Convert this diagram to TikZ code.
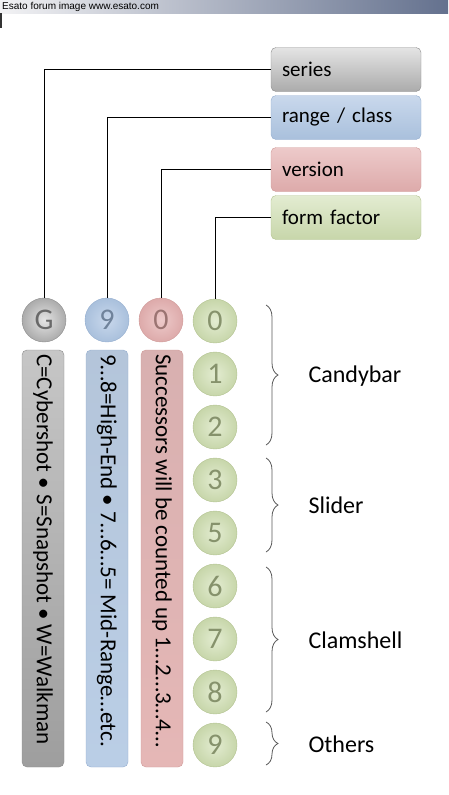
\documentclass[tikz,border=0pt]{standalone}
\usepackage{fontspec}
\setmainfont{Carlito}
\newfontfamily\bannerfont{Liberation Sans}
\usetikzlibrary{decorations.pathreplacing}
\definecolor{grayA}{HTML}{E4E4E4}
\definecolor{grayB}{HTML}{ABABAB}
\definecolor{grayE}{HTML}{8C8C8C}
\definecolor{grayC}{HTML}{C6C6C6}
\definecolor{grayD}{HTML}{9E9E9E}
\definecolor{blueA}{HTML}{C9D8EC}
\definecolor{blueB}{HTML}{A9C0DC}
\definecolor{blueE}{HTML}{95AECF}
\definecolor{blueC}{HTML}{B4C5DA}
\definecolor{blueD}{HTML}{BACEE6}
\definecolor{redA}{HTML}{EDCACA}
\definecolor{redB}{HTML}{DDAAAA}
\definecolor{redE}{HTML}{CF9A98}
\definecolor{redC}{HTML}{D8B0B0}
\definecolor{redD}{HTML}{E5B7B6}
\definecolor{greenA}{HTML}{E3ECD1}
\definecolor{greenB}{HTML}{C7D6AA}
\definecolor{greenE}{HTML}{B2C290}
\definecolor{bannerL}{HTML}{F2F2F4}
\definecolor{bannerR}{HTML}{64718E}
\tikzset{
  labelbox/.style={draw=#1E, rounded corners=5pt, top color=#1A, bottom color=#1B,
    minimum width=150pt, minimum height=44pt, text width=128pt, align=left,
    font=\fontsize{21}{24}\selectfont, inner sep=0pt},
  bar/.style={draw=#1E, rounded corners=5pt, top color=#1C, bottom color=#1D,
    minimum width=42pt, minimum height=417pt, inner sep=0pt},
  bartext/.style={rotate=-90, anchor=west, inner sep=0pt, font=\fontsize{23}{24}\selectfont},
  digit/.style={circle, draw=#1E, minimum size=44pt, inner sep=0pt,
    inner color=#1A, outer color=#1B, text=#1E!75!black,
    font=\fontsize{30}{30}\selectfont},
  conn/.style={draw=black, line width=0.8pt},
  bracebrace/.style={draw=black!65, line width=0.8pt, decorate,
    decoration={brace, amplitude=12pt, aspect=0.5}},
  bracelabel/.style={anchor=west, font=\fontsize{24}{26}\selectfont}
}
\begin{document}
\begin{tikzpicture}[x=1pt,y=-1pt]
\useasboundingbox (0,0) rectangle (448,795);
% banner
\shade[left color=bannerL, right color=bannerR] (0,0) rectangle (448,13);
\node[anchor=west, inner sep=0pt, font=\bannerfont\fontsize{10}{10}\selectfont] (banner) at (2,6.5) {Esato forum image www.esato.com};
\draw[black!80, line width=1.5pt] (0.75,13) -- (0.75,28);
% label boxes
\node[labelbox=gray] (series) at (346,69.5) {series};
\node[labelbox=blue] (range) at (346,117.5) {range / class};
\node[labelbox=red] (version) at (346,169.5) {version};
\node[labelbox=green] (form) at (346,217.5) {form factor};
% top digits
\node[digit=gray] (g) at (44,320) {G};
\node[digit=blue] (n9) at (107,320) {9};
\node[digit=red] (n0) at (161,320) {0};
% green column
\foreach \d [count=\i from 0] in {0,1,2,3,5,6,7,8,9} {
  \node[digit=green] (f\d) at (215,{321+53*\i}) {\d};
}
% connectors
\draw[conn] (series.west) -| (g.north);
\draw[conn] (range.west) -| (n9.north);
\draw[conn] (version.west) -| (n0.north);
\draw[conn] (form.west) -| (f0.north);
% bars
\node[bar=gray] (bg) at (43,558.5) {};
\node[bar=blue] (bb) at (107,558.5) {};
\node[bar=red] (br) at (162,558.5) {};
\node[bartext] (tg) at (43,354) {C=Cybershot • S=Snapshot • W=Walkman};
\node[bartext] (tb) at (107,354) {9…8=High-End • 7…6…5= Mid-Range…etc.};
\node[bartext] (tr) at (162,354) {Successors will be counted up 1…2…3…4…};
% braces
\coordinate (c1a) at (266,305); \coordinate (c1b) at (266,445);
\coordinate (c2a) at (266,458); \coordinate (c2b) at (266,552);
\coordinate (c3a) at (266,567); \coordinate (c3b) at (266,712);
\coordinate (c4a) at (266,722); \coordinate (c4b) at (266,765);
\draw[bracebrace] (c1a) -- (c1b);
\draw[bracebrace] (c2a) -- (c2b);
\draw[bracebrace] (c3a) -- (c3b);
\draw[bracebrace] (c4a) -- (c4b);
\node[bracelabel] (candy) at (305,376) {Candybar};
\node[bracelabel] (slider) at (305,505) {Slider};
\node[bracelabel] (clam) at (305,640) {Clamshell};
\node[bracelabel] (others) at (305,744) {Others};
\end{tikzpicture}
\end{document}
